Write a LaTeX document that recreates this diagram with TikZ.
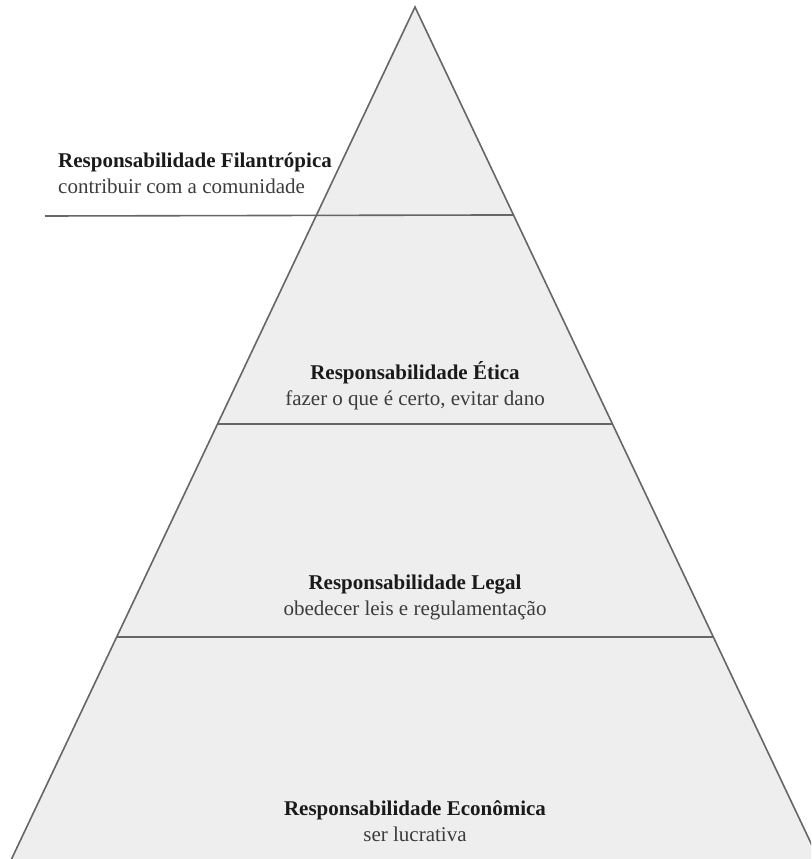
\documentclass[tikz,border=0pt]{standalone}
\usepackage{fontspec}
\setmainfont{Liberation Serif}
\usetikzlibrary{calc,positioning}
\definecolor{pfill}{HTML}{EEEEEE}
\definecolor{pline}{HTML}{666666}
\definecolor{ptext}{HTML}{1A1A1A}
\tikzset{
  tier line/.style={line width=1.6pt,draw=pline},
  tier title/.style={anchor=base,inner sep=0pt,text=ptext,font=\fontsize{21}{26}\selectfont\bfseries},
  tier sub/.style={anchor=base,inner sep=0pt,text=ptext!85!white,font=\fontsize{21}{26}\selectfont}
}

\begin{document}
\begin{tikzpicture}[x=1pt, y=-1pt]

  \useasboundingbox (0,0) rectangle (811,859);
  \clip (0,0) rectangle (811,859);

  % Pyramid corners
  \coordinate (apex) at (415,7);
  \coordinate (bl) at (1.6,880);
  \coordinate (br) at (828.4,880);

  % Pyramid body
  \fill[pfill] (bl) -- (apex) -- (br) -- cycle;
  \draw[tier line, line join=miter] (bl) -- (apex) -- (br);

  % Tier borders
  \coordinate (fL) at (45,216);
  \coordinate (fR) at ($(apex)!0.2382!(br)$);
  \coordinate (eL) at ($(apex)!0.4777!(bl)$);
  \coordinate (eR) at ($(apex)!0.4777!(br)$);
  \coordinate (gL) at ($(apex)!0.7216!(bl)$);
  \coordinate (gR) at ($(apex)!0.7216!(br)$);
  \draw[tier line] (fL) -- (fR);
  \draw[tier line] (eL) -- (eR);
  \draw[tier line] (gL) -- (gR);

  % Philanthropic tier
  \node[tier title, anchor=base west] (fil) at (58,167) {Responsabilidade Filantrópica};
  \node[tier sub, anchor=base west] (filsub) at ([yshift=-26pt]fil.base west) {contribuir com a comunidade};

  % Ethical tier
  \node[tier title] (eti) at (415,379) {Responsabilidade Ética};
  \node[tier sub] (etisub) at ([yshift=-26pt]eti.base) {fazer o que é certo, evitar dano};

  % Legal tier
  \node[tier title] (leg) at (415,589) {Responsabilidade Legal};
  \node[tier sub] (legsub) at ([yshift=-26pt]leg.base) {obedecer leis e regulamentação};

  % Economic tier
  \node[tier title] (eco) at (415,815) {Responsabilidade Econômica};
  \node[tier sub] (ecosub) at ([yshift=-26pt]eco.base) {ser lucrativa};

\end{tikzpicture}
\end{document}
